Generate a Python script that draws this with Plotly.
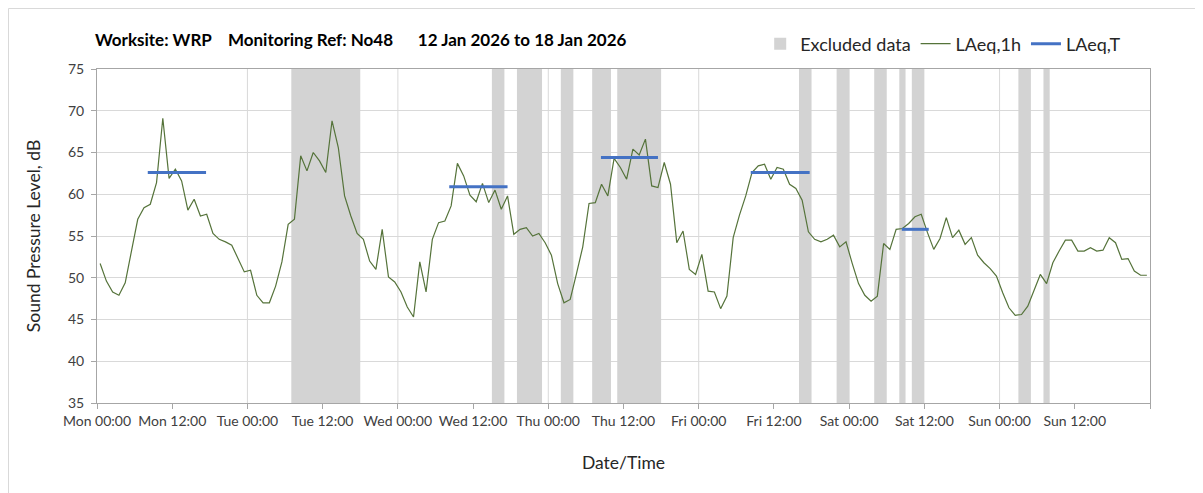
import datetime as dt
import plotly.graph_objects as go

# ---------------- data ----------------
start_time = dt.datetime(2026, 1, 12, 0, 0)
# hourly LAeq,1h values (dB), Mon 00:00 .. Sun 23:00
laeq_1h = [
    51.7, 49.6, 48.3, 47.9, 49.4, 53.2, 57.0, 58.4, 58.8, 61.4, 69.1, 61.9,
    63.0, 61.6, 58.1, 59.4, 57.4, 57.6, 55.3, 54.6, 54.3, 53.9, 52.2, 50.7,
    50.9, 47.9, 47.0, 47.0, 49.0, 51.9, 56.4, 57.0, 64.6, 62.8, 65.0, 64.0,
    62.6, 68.8, 65.6, 59.8, 57.4, 55.3, 54.6, 52.0, 51.0, 55.8, 50.1, 49.5,
    48.3, 46.5, 45.3, 51.9, 48.3, 54.6, 56.6, 56.8, 58.6, 63.7, 62.2, 59.9,
    59.1, 61.3, 59.0, 60.5, 58.2, 59.8, 55.2, 55.8, 56.0, 55.0, 55.3, 54.2,
    52.7, 49.3, 47.0, 47.4, 50.5, 53.7, 58.9, 59.0, 61.2, 59.8, 64.3, 63.2,
    61.8, 65.4, 64.7, 66.6, 61.0, 60.8, 63.8, 61.2, 54.2, 55.6, 51.0, 50.4,
    52.8, 48.4, 48.3, 46.3, 47.8, 54.8, 57.5, 59.8, 62.6, 63.4, 63.6, 61.8,
    63.2, 63.0, 61.2, 60.7, 59.3, 55.5, 54.6, 54.3, 54.6, 55.1, 53.7, 54.3,
    51.7, 49.3, 47.9, 47.2, 47.8, 54.1, 53.4, 55.8, 55.9, 56.5, 57.3, 57.6,
    55.4, 53.4, 54.7, 57.2, 54.8, 55.7, 54.0, 54.8, 52.7, 51.8, 51.1, 50.2,
    48.2, 46.4, 45.5, 45.6, 46.6, 48.6, 50.4, 49.3, 51.8, 53.2, 54.5, 54.5,
    53.2, 53.2, 53.6, 53.2, 53.3, 54.8, 54.2, 52.2, 52.3, 50.8, 50.3, 50.3,
]

# LAeq,T periods (hours from start) and levels
laeqT_start_h = [8.1, 56.2, 80.4, 104.3, 128.4]
laeqT_end_h = [17.4, 65.5, 89.5, 113.7, 132.7]
laeqT_value = [62.6, 60.9, 64.4, 62.6, 55.8]

# Excluded-data periods (hours from start)
excl_start_h = [31, 63, 67, 74, 79, 83, 112, 118, 124, 128, 130, 147, 151]
excl_end_h = [42, 65, 71, 76, 82, 90, 114, 120, 126, 129, 132, 149, 152]

# axis ticks
tick_hours = list(range(0, 169, 12))
tick_labels = ["Mon 00:00", "Mon 12:00", "Tue 00:00", "Tue 12:00", "Wed 00:00",
               "Wed 12:00", "Thu 00:00", "Thu 12:00", "Fri 00:00", "Fri 12:00",
               "Sat 00:00", "Sat 12:00", "Sun 00:00", "Sun 12:00", ""]
day_grid_hours = [24, 48, 72, 96, 120, 144]

title_text = "Worksite: WRP    Monitoring Ref: No48      12 Jan 2026 to 18 Jan 2026"

# ---------------- helpers ----------------
def at(h):
    return start_time + dt.timedelta(hours=h)

FONT = "Lato"
GRID = "#d9d9d9"
AXIS = "#a6a6a6"
W, H = 1203, 493
ML, MR, MT, MB = 89, 61, 61, 98
PW, PH = W - ML - MR, H - MT - MB

fig = go.Figure()

# Excluded data as bars spanning full y range
fig.add_trace(go.Bar(
    x=[at((s + e) / 2) for s, e in zip(excl_start_h, excl_end_h)],
    y=[40] * len(excl_start_h),
    base=[35] * len(excl_start_h),
    width=[(e - s) * 3600 * 1000 for s, e in zip(excl_start_h, excl_end_h)],
    marker=dict(color="#d3d3d3", line=dict(width=0)),
    name="Excluded data",
    hoverinfo="skip",
))

# LAeq,1h line (plotted at the middle of each hour)
fig.add_trace(go.Scatter(
    x=[at(i + 0.5) for i in range(len(laeq_1h))],
    y=laeq_1h,
    mode="lines",
    line=dict(color="#55733a", width=1.2),
    name="LAeq,1h",
))

# LAeq,T segments
xs, ys = [], []
for s, e, v in zip(laeqT_start_h, laeqT_end_h, laeqT_value):
    xs += [at(s), at(e), None]
    ys += [v, v, None]
fig.add_trace(go.Scatter(
    x=xs, y=ys, mode="lines",
    line=dict(color="#4472c4", width=3),
    name="LAeq,T",
    connectgaps=False,
))

shapes = []
for h in day_grid_hours:
    shapes.append(dict(type="line", xref="x", yref="paper",
                       x0=at(h), x1=at(h), y0=0, y1=1,
                       line=dict(color=GRID, width=1), layer="between"))
# outer chart border (top and left edges visible)
shapes.append(dict(type="rect", xref="paper", yref="paper",
                   x0=(0.5 - ML) / PW, x1=(W + 20 - ML) / PW,
                   y0=(PH + MT - H - 20) / PH, y1=(PH + MT - 0.5) / PH,
                   line=dict(color="#d9d9d9", width=1), layer="below"))

fig.update_layout(
    width=W, height=H,
    margin=dict(l=ML, r=MR, t=MT, b=MB, autoexpand=False),
    paper_bgcolor="white", plot_bgcolor="white",
    font=dict(family=FONT, color="#404040", size=14),
    barmode="overlay",
    title=dict(text="<b>" + title_text + "</b>", x=87 / W, xanchor="left",
               y=1 - 32 / H, yanchor="middle",
               font=dict(family=FONT, size=17, color="#000000")),
    legend=dict(orientation="h", x=0.9774, xanchor="right", y=1.075, yanchor="middle",
                font=dict(family=FONT, size=18, color="#262626"),
                bgcolor="rgba(0,0,0,0)", traceorder="normal", itemwidth=30),
    showlegend=True,
    shapes=shapes,
    xaxis=dict(
        type="date",
        range=[at(0), at(168)],
        tickvals=[at(h) for h in tick_hours],
        ticktext=tick_labels,
        showgrid=False,
        showline=True, linecolor=AXIS, linewidth=1, mirror=True,
        ticks="outside", ticklen=5, tickcolor=AXIS,
        tickfont=dict(family=FONT, size=14, color="#404040"),
        title=dict(text="Date/Time", font=dict(family=FONT, size=17.5, color="#262626"),
                   standoff=28),
        automargin=False,
        zeroline=False,
    ),
    yaxis=dict(
        range=[35, 75], tick0=35, dtick=5,
        showgrid=True, gridcolor=GRID, gridwidth=1,
        showline=True, linecolor=AXIS, linewidth=1, mirror=True,
        ticks="outside", ticklen=5, tickcolor=AXIS,
        ticklabelstandoff=4,
        tickfont=dict(family=FONT, size=14, color="#404040"),
        title=dict(text="Sound Pressure Level, dB",
                   font=dict(family=FONT, size=17.5, color="#262626"), standoff=22),
        automargin=False,
        zeroline=False,
    ),
)

fig.write_html("out.html")
